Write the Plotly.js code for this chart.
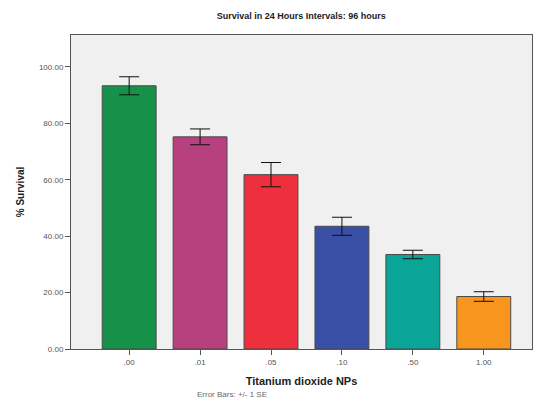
<!DOCTYPE html>
<html>
<head>
<meta charset="utf-8">
<script src="https://cdn.plot.ly/plotly-3.0.1.min.js"></script>
<style>html,body{margin:0;padding:0;background:#fff;}#chart{width:536px;height:406px;}</style>
</head>
<body>
<div id="chart"></div>
<script>
var categories = [".00", ".01", ".05", ".10", ".50", "1.00"];
var survival = [93.3, 75.2, 61.8, 43.5, 33.5, 18.6];
var stdErr = [3.2, 2.8, 4.3, 3.2, 1.5, 1.7];
var barColors = ["#16914a", "#b7407f", "#ee2f3d", "#3a4fa6", "#0aa597", "#f7951e"];
var yTicks = [0, 20, 40, 60, 80, 100];

var trace = {
  type: "bar",
  x: categories,
  y: survival,
  marker: {color: barColors, line: {color: "#4a4a4a", width: 1}},
  error_y: {type: "data", array: stdErr, visible: true, color: "#111", thickness: 1, width: 10},
  hoverinfo: "none"
};

var layout = {
  width: 536, height: 406,
  margin: {l: 71, r: 4, t: 35, b: 57},
  paper_bgcolor: "#ffffff",
  plot_bgcolor: "#f0f0f0",
  bargap: 0.24,
  showlegend: false,
  font: {family: "Liberation Sans, Arial, sans-serif", color: "#333"},
  title: {text: "<b>Survival in 24 Hours Intervals: 96 hours</b>", font: {size: 9, color: "#222"}, x: 0.562, xanchor: "center", y: 0.962, yanchor: "middle"},
  xaxis: {
    type: "category",
    range: [-0.82, 5.68],
    showline: true, linecolor: "#555", linewidth: 1, mirror: true,
    ticks: "outside", ticklen: 5, tickcolor: "#555",
    tickfont: {size: 8, color: "#555"},
    showgrid: false, zeroline: false,
    title: {text: "<b>Titanium dioxide NPs</b>", font: {size: 11, color: "#222"}, standoff: 11}
  },
  yaxis: {
    range: [0, 111.3],
    tickvals: yTicks,
    tickformat: ".2f",
    showline: true, linecolor: "#555", linewidth: 1, mirror: true,
    ticks: "outside", ticklen: 5, tickcolor: "#555",
    tickfont: {size: 8, color: "#555"},
    showgrid: false, zeroline: false,
    title: {text: "<b>% Survival</b>", font: {size: 10, color: "#222"}, standoff: 12}
  },
  annotations: [{
    text: "Error Bars: +/- 1 SE", xref: "paper", yref: "paper", x: 0.35, y: -0.146,
    xanchor: "center", yanchor: "middle", showarrow: false, font: {size: 8, color: "#666"}
  }]
};

Plotly.newPlot("chart", [trace], layout, {displayModeBar: false, staticPlot: true});
</script>
</body>
</html>
